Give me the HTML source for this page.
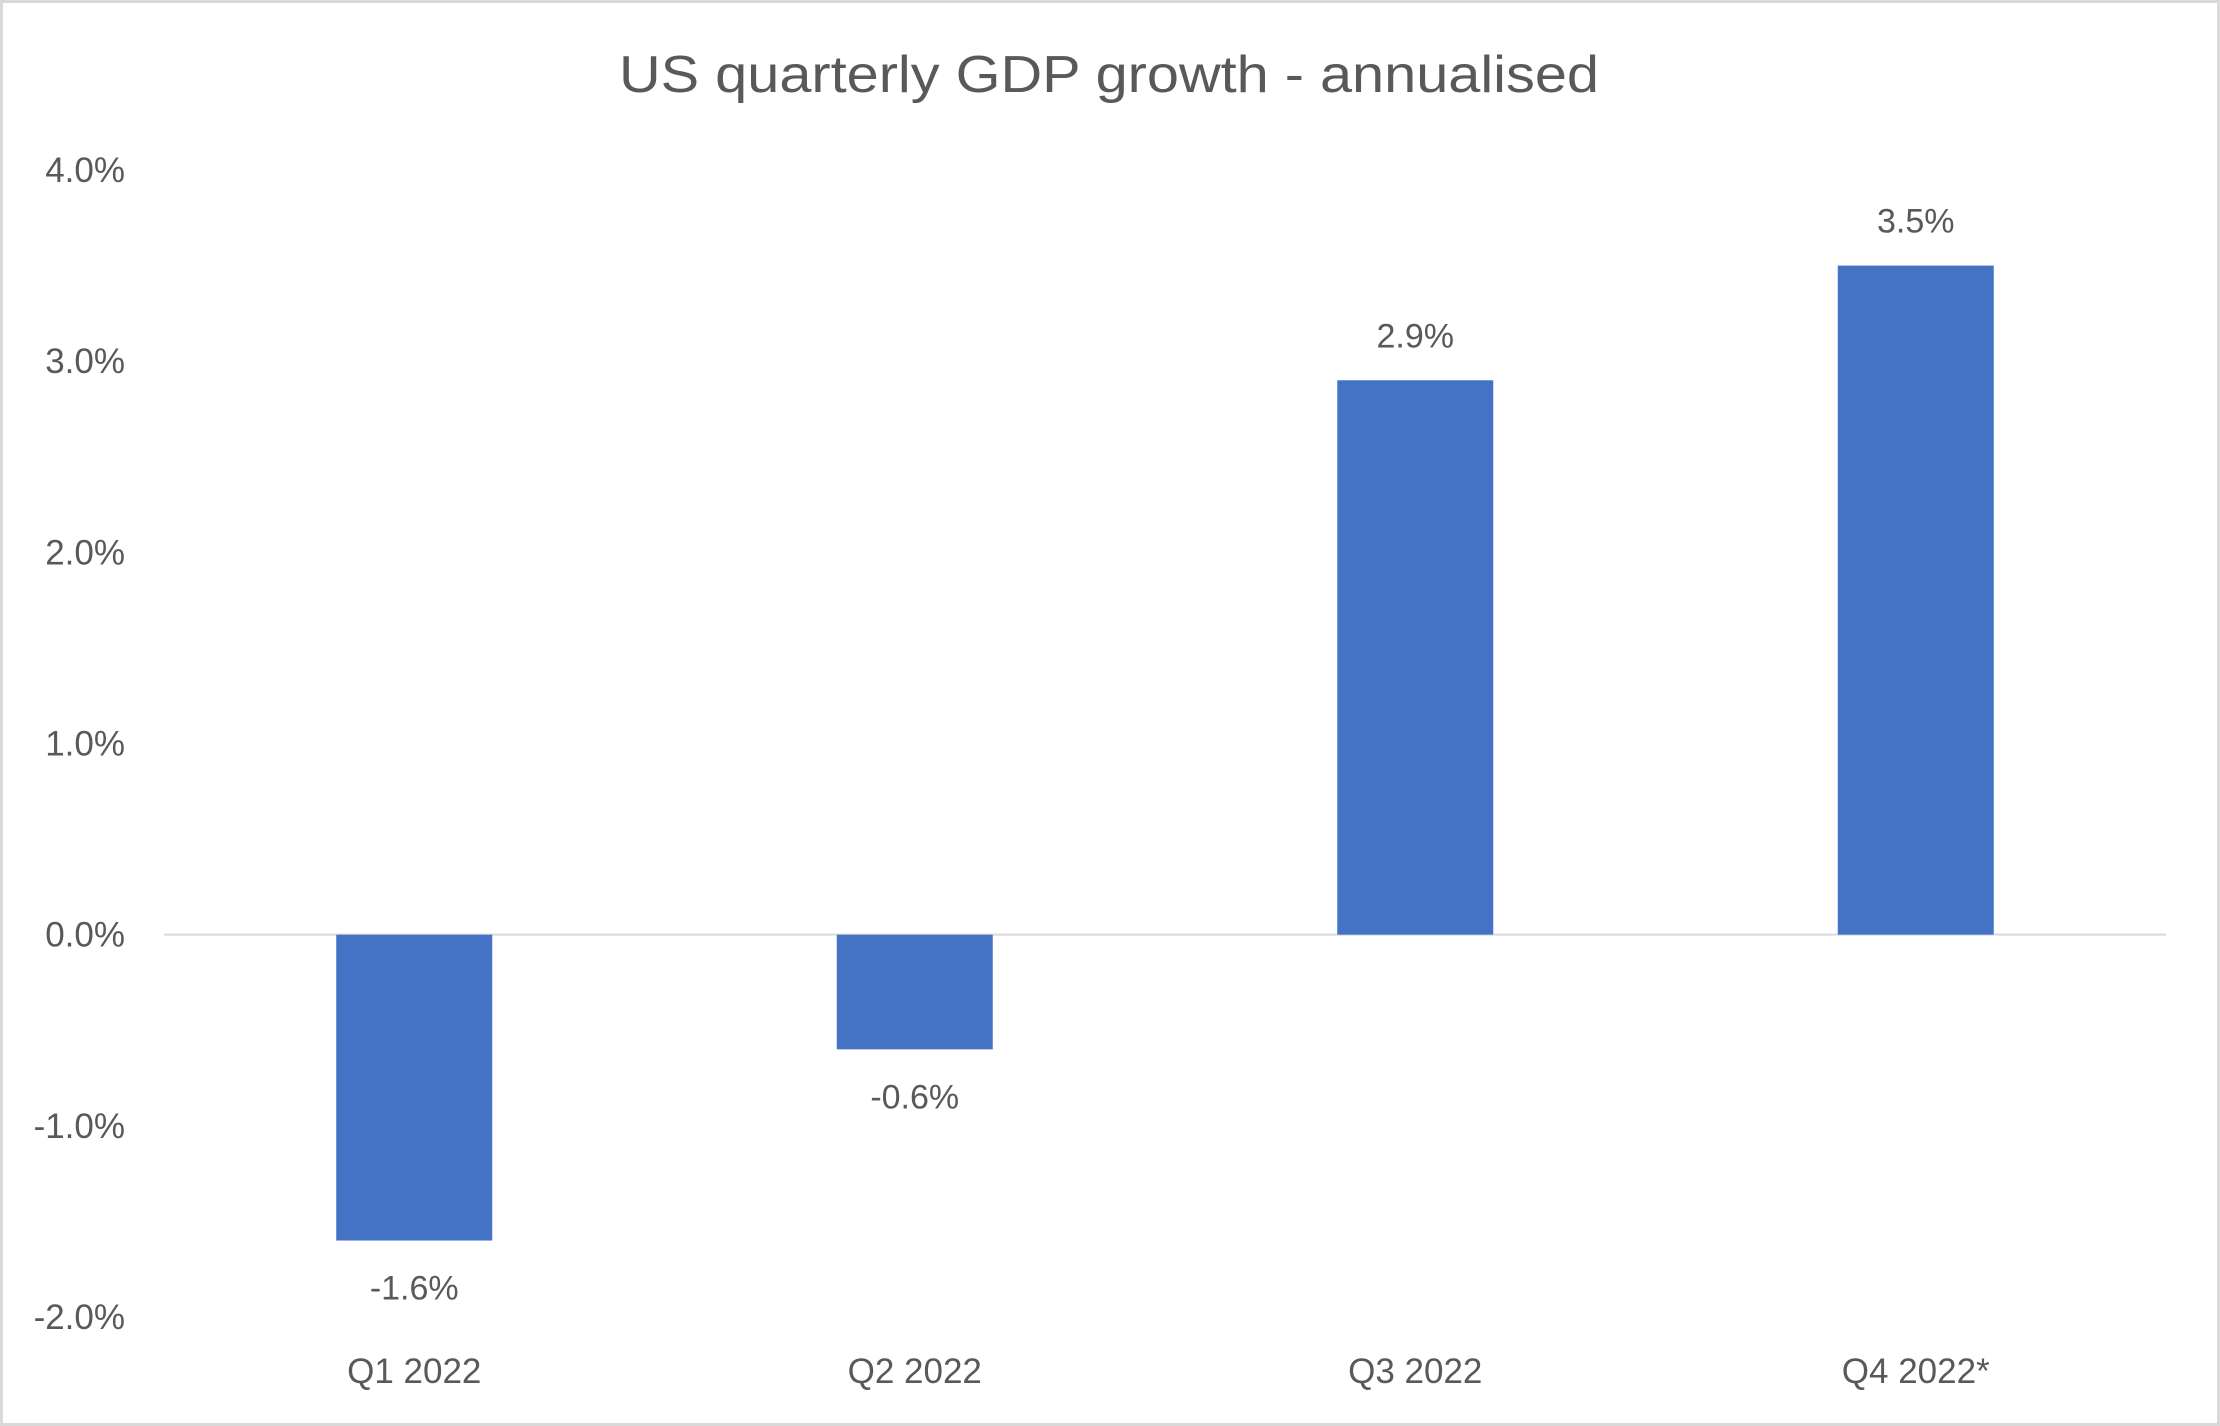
<!DOCTYPE html>
<html><head><meta charset="utf-8"><style>
html,body{margin:0;padding:0;background:#fff}
svg{display:block}
text{font-family:"Liberation Sans",sans-serif;fill:#595959}
</style></head><body>
<svg id="chart" width="2220" height="1426">
<rect x="1.5" y="1.5" width="2217" height="1423" fill="#fff" stroke="#d9d9d9" stroke-width="3"/>
<text x="1109" y="92" text-anchor="middle" font-size="52" textLength="980" lengthAdjust="spacingAndGlyphs">US quarterly GDP growth - annualised</text>
<g id="grid"></g><g id="bars"></g><g id="labels"></g>
</svg>
<script>
const categories=["Q1 2022","Q2 2022","Q3 2022","Q4 2022*"];
const values=[-1.6,-0.6,2.9,3.5];
const valueLabels=["-1.6%","-0.6%","2.9%","3.5%"];
const ticks=[-2,-1,0,1,2,3,4];
const tickLabels=["-2.0%","-1.0%","0.0%","1.0%","2.0%","3.0%","4.0%"];
const NS="http://www.w3.org/2000/svg";
const L=164,R=2166,yTop=170,yBot=1317,vMin=-2,vMax=4;
const y=v=>yBot-(v-vMin)/(vMax-vMin)*(yBot-yTop);
const bw=(R-L)/categories.length;
const xc=i=>L+bw*(i+0.5);
function mk(tag,attrs,parent){const e=document.createElementNS(NS,tag);for(const k in attrs)e.setAttribute(k,attrs[k]);document.getElementById(parent).appendChild(e);return e;}
ticks.forEach((t,i)=>{
  const tx=mk('text',{x:125,y:y(t)+12,'text-anchor':'end','font-size':35},'labels');
  tx.textContent=tickLabels[i];
  
  
});
const zl=mk('line',{x1:L,x2:R,y1:y(0),y2:y(0),stroke:'#d9d9d9','stroke-width':2},'grid');


values.forEach((v,i)=>{
  const w=156,top=Math.min(y(v),y(0)),h=Math.abs(y(v)-y(0));
  const r=mk('rect',{x:xc(i)-w/2,y:top,width:w,height:h,fill:'#4472c4'},'bars');
  
  
  const ly=v>=0?y(v)-33:y(v)+59;
  const t=mk('text',{x:xc(i),y:ly,'text-anchor':'middle','font-size':34},'labels');
  t.textContent=valueLabels[i];
  
  
  const c=mk('text',{x:xc(i),y:1383,'text-anchor':'middle','font-size':35},'labels');
  c.textContent=categories[i];
  
  
});
</script>
</body></html>
